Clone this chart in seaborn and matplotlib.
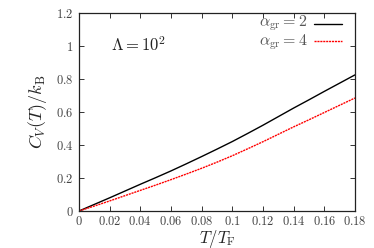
import numpy as np
import pandas as pd
import matplotlib
matplotlib.use("Agg")
import matplotlib.pyplot as plt
import seaborn as sns
from matplotlib.ticker import FuncFormatter, MultipleLocator

# valores
t_tf = [0.0, 0.01, 0.02, 0.03, 0.04, 0.05, 0.06, 0.07, 0.08, 0.09, 0.10,
        0.11, 0.12, 0.13, 0.14, 0.15, 0.16, 0.17, 0.18]
cv_alpha2 = [0.0, 0.040, 0.080, 0.121, 0.162, 0.202, 0.243, 0.286, 0.330, 0.375, 0.421,
             0.470, 0.520, 0.572, 0.624, 0.674, 0.725, 0.775, 0.825]
cv_alpha4 = [0.0, 0.030, 0.061, 0.093, 0.125, 0.157, 0.190, 0.224, 0.259, 0.296, 0.335,
             0.377, 0.420, 0.465, 0.510, 0.553, 0.597, 0.641, 0.685]

rotulos = [r"$\alpha_{\rm gr} = 2$", r"$\alpha_{\rm gr} = 4$"]

df = pd.DataFrame({
    "T": t_tf * 2,
    "Cv": cv_alpha2 + cv_alpha4,
    "alpha": [rotulos[0]] * len(t_tf) + [rotulos[1]] * len(t_tf),
})

sns.set_style("ticks")
plt.rcParams["mathtext.fontset"] = "cm"
plt.rcParams["font.family"] = ["DejaVu Serif"]

fig = plt.figure(figsize=(3.74, 2.48), dpi=100)
ax = fig.add_axes([79 / 374, 1 - 211 / 248, 276 / 374, 198 / 248])

cores = {rotulos[0]: "black", rotulos[1]: "#ff0000"}
sns.lineplot(data=df, x="T", y="Cv", hue="alpha", palette=cores, ax=ax, linewidth=1.0,
             legend=False)
ax.lines[1].set_dashes((1.5, 0.6))

ax.set_xlim(0, 0.18)
ax.set_ylim(0, 1.2)
ax.xaxis.set_major_locator(MultipleLocator(0.02))
ax.yaxis.set_major_locator(MultipleLocator(0.2))
fmt = FuncFormatter(lambda v, p: r"$%g$" % round(v, 3))
ax.xaxis.set_major_formatter(fmt)
ax.yaxis.set_major_formatter(fmt)
ax.tick_params(direction="in", length=3.5, width=0.7, top=True, right=True,
               labelsize=9, colors="#333333", labelcolor="#444444", pad=4)
ax.tick_params(axis="x", pad=3)
for s in ax.spines.values():
    s.set_linewidth(0.9)
    s.set_color("#222222")

ax.set_xlabel(r"$T/T_{\rm F}$", fontsize=12, va="top")
ax.xaxis.set_label_coords(0.5, -0.088)
ax.set_ylabel(r"$C_V(T)/k_{\rm B}$", fontsize=13, labelpad=5)

ax.text(0.021, 1.0, r"$\Lambda = 10^2$", fontsize=12, va="center", ha="left",
        color="#222222")

# legenda ao estilo gnuplot: texto à esquerda da amostra
for i, (rot, cor) in enumerate(zip(rotulos, ["black", "#ff0000"])):
    yb = 1.117 - i * 0.112
    yl = 1.133 - i * 0.103
    ax.text(0.1490, yb, rot, fontsize=11.5, ha="right", va="baseline", color="#555555")
    ln, = ax.plot([0.1535, 0.1715], [yl, yl], color=cor, lw=1.0)
    if i == 1:
        ln.set_dashes((1.5, 0.6))

fig.savefig("out.png", dpi=100)
